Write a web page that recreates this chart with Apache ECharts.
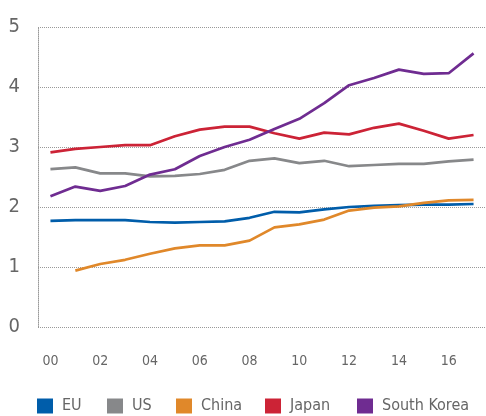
<!DOCTYPE html>
<html>
<head>
<meta charset="utf-8">
<script src="https://cdn.jsdelivr.net/npm/echarts@6/dist/echarts.min.js"></script>
<style>html,body{margin:0;padding:0;background:#fff}#c{width:486px;height:416px}</style>
</head>
<body>
<div id="c"></div>
<script>
const years = ["00","01","02","03","04","05","06","07","08","09","10","11","12","13","14","15","16","17"];
const yTicks = [0,1,2,3,4,5];
const eu = [1.77,1.78,1.78,1.78,1.75,1.74,1.75,1.76,1.82,1.92,1.91,1.96,2.00,2.02,2.03,2.04,2.04,2.05];
const us = [2.63,2.66,2.56,2.56,2.51,2.52,2.55,2.62,2.77,2.81,2.73,2.77,2.68,2.70,2.72,2.72,2.76,2.79];
const china = [null,0.94,1.05,1.12,1.22,1.31,1.36,1.36,1.44,1.66,1.71,1.79,1.94,1.99,2.01,2.07,2.11,2.12];
const japan = [2.91,2.97,3.00,3.03,3.03,3.18,3.29,3.34,3.34,3.23,3.14,3.24,3.21,3.32,3.39,3.27,3.14,3.20];
const korea = [2.18,2.34,2.27,2.35,2.54,2.63,2.85,3.00,3.12,3.30,3.47,3.73,4.03,4.15,4.29,4.22,4.23,4.56];
const names = ["EU","US","China","Japan","South Korea"];
const colors = ["#005DAA","#87888A","#E0882A","#CC2336","#6F2C91"];
const values = [eu, us, china, japan, korea];
const legendLefts = [37,107,176,265,357];

const FONT = "'DejaVu Sans Condensed','Liberation Sans Narrow',sans-serif";
const chart = echarts.init(document.getElementById('c'), null, {renderer:'canvas'});
chart.setOption({
  animation: false,
  backgroundColor: '#fff',
  grid: {left: 38, right: -3, top: 27, bottom: 89, containLabel: false},
  xAxis: {
    type: 'category', data: years, boundaryGap: true,
    axisLine: {show: false}, axisTick: {show: false},
    axisLabel: {interval: 1, color: '#666', fontSize: 14, fontFamily: FONT, margin: 27},
    splitLine: {show: false}
  },
  yAxis: {
    type: 'value', min: 0, max: 5, interval: 1,
    axisLine: {show: true, lineStyle: {color: '#999', width: 1, type: [1,1]}},
    axisTick: {show: false},
    axisLabel: {color: '#666', fontSize: 20, fontFamily: FONT, margin: 18, padding: [0,0,13,0],
      formatter: v => yTicks.includes(v) ? String(v) : ''},
    splitLine: {show: true, lineStyle: {color: '#999', width: 1, type: [1,1]}}
  },
  legend: names.map((n, i) => ({
    data: [n], left: legendLefts[i], top: 398, padding: 0,
    icon: 'rect', itemWidth: 16, itemHeight: 15, itemGap: 0,
    textStyle: {color: '#666', fontSize: 16, fontFamily: FONT, padding: [0,0,0,4]}
  })),
  series: names.map((n, i) => ({
    name: n, type: 'line', data: values[i], symbol: 'none', connectNulls: false,
    lineStyle: {color: colors[i], width: 2.7}, itemStyle: {color: colors[i]}
  }))
});
</script>
</body>
</html>
